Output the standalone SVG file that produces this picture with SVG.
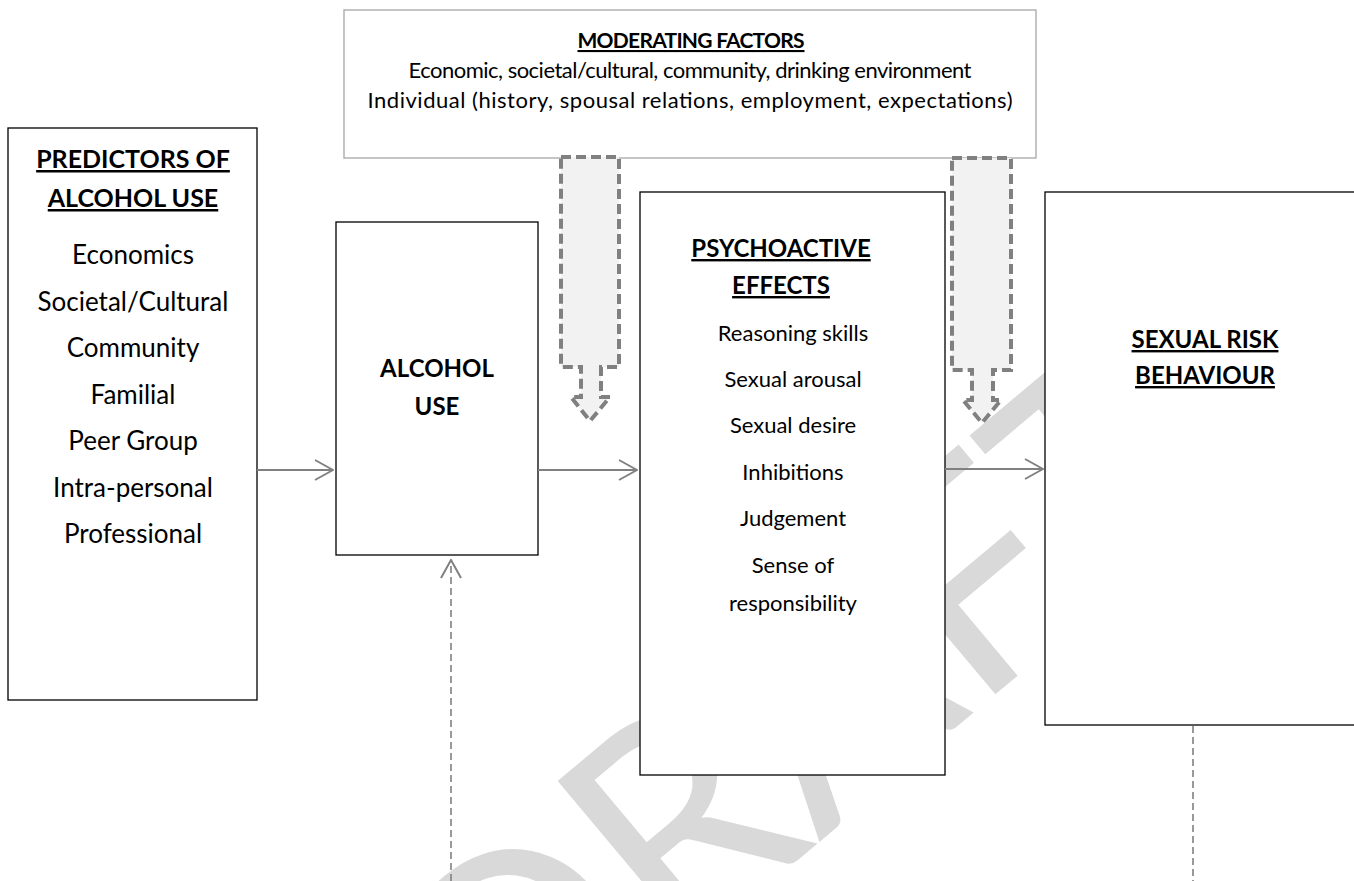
<svg xmlns="http://www.w3.org/2000/svg" width="1354" height="881" viewBox="0 0 1354 881">
<style>
.box{fill:#fff;stroke:#000;stroke-width:1.3}
.mod{fill:#fff;stroke:#a6a6a6;stroke-width:1.3}
.t{font-family:Lato,"Liberation Sans",sans-serif;fill:#000;text-anchor:middle}
.h{font-weight:bold;text-decoration:underline}
.b{font-weight:bold}
.conn{stroke:#808080;stroke-width:2;fill:none}
.dash{stroke:#808080;stroke-width:1.6;fill:none;stroke-dasharray:7 4}
.callout{fill:#f2f2f2;stroke:#808080;stroke-width:4;stroke-dasharray:10 5}
.wm{font-family:Lato,"Liberation Sans",sans-serif;fill:#d9d9d9;font-size:300px}
</style>
<defs>
<marker id="arr" viewBox="0 0 20 22" refX="19" refY="11" markerWidth="20" markerHeight="22" markerUnits="userSpaceOnUse" orient="auto">
<path d="M1,1 L19,11 L1,21" fill="none" stroke="#808080" stroke-width="2"/>
</marker>
</defs>
<rect width="1354" height="881" fill="#fff"/>
<text class="wm" transform="translate(500,1110) rotate(-40)">DRAFT</text>

<g id="moderating">
<rect class="mod" x="344" y="10" width="692" height="148"/>
<text class="t h" x="691" y="48" font-size="21" textLength="227">MODERATING FACTORS</text>
<text class="t" x="690" y="78" font-size="22" textLength="563">Economic, societal/cultural, community, drinking environment</text>
<text class="t" x="690" y="108" font-size="22" textLength="645">Individual (history, spousal relations, employment, expectations)</text>
</g>

<g id="predictors">
<rect class="box" x="8" y="128" width="249" height="572"/>
<text class="t h" x="133" y="168" font-size="25">PREDICTORS OF</text>
<text class="t h" x="133" y="207" font-size="25">ALCOHOL USE</text>
<text class="t" x="133" y="264" font-size="26">Economics</text>
<text class="t" x="133" y="311" font-size="26">Societal/Cultural</text>
<text class="t" x="133" y="357" font-size="26">Community</text>
<text class="t" x="133" y="404" font-size="26">Familial</text>
<text class="t" x="133" y="450" font-size="26">Peer Group</text>
<text class="t" x="133" y="497" font-size="26">Intra-personal</text>
<text class="t" x="133" y="543" font-size="26">Professional</text>
</g>

<g id="alcohol-use">
<rect class="box" x="336" y="222" width="202" height="333"/>
<text class="t b" x="437" y="377" font-size="24">ALCOHOL</text>
<text class="t b" x="437" y="415" font-size="24">USE</text>
</g>

<g id="psychoactive">
<rect class="box" x="640" y="192" width="305" height="583"/>
<text class="t h" x="781" y="257" font-size="24">PSYCHOACTIVE</text>
<text class="t h" x="781" y="294" font-size="24">EFFECTS</text>
<text class="t" x="793" y="341" font-size="22">Reasoning skills</text>
<text class="t" x="793" y="387" font-size="22">Sexual arousal</text>
<text class="t" x="793" y="433" font-size="22">Sexual desire</text>
<text class="t" x="793" y="480" font-size="22">Inhibitions</text>
<text class="t" x="793" y="526" font-size="22">Judgement</text>
<text class="t" x="793" y="573" font-size="22">Sense of</text>
<text class="t" x="793" y="611" font-size="22">responsibility</text>
</g>

<g id="sexual-risk">
<rect class="box" x="1045" y="192" width="320" height="533"/>
<text class="t h" x="1205" y="348" font-size="24">SEXUAL RISK</text>
<text class="t h" x="1205" y="384" font-size="24">BEHAVIOUR</text>
</g>

<g id="moderator-arrows">
<path class="callout" d="M561,157 H619 V367 H601 V397 H610 L590,421 L571,397 H581 V367 H561 Z"/>
<path class="callout" d="M952,158 H1011 V370 H993 V400 H1001 L982,423 L963,400 H972 V370 H952 Z"/>
</g>

<g id="connectors">
<line class="conn" x1="257" y1="470" x2="333" y2="470" marker-end="url(#arr)"/>
<line class="conn" x1="538" y1="470" x2="637" y2="470" marker-end="url(#arr)"/>
<line class="conn" x1="945" y1="469" x2="1043" y2="469" marker-end="url(#arr)"/>
<line class="dash" x1="451" y1="881" x2="451" y2="560" marker-end="url(#arr)"/>
<line class="dash" x1="1193" y1="726" x2="1193" y2="881"/>
</g>
</svg>
